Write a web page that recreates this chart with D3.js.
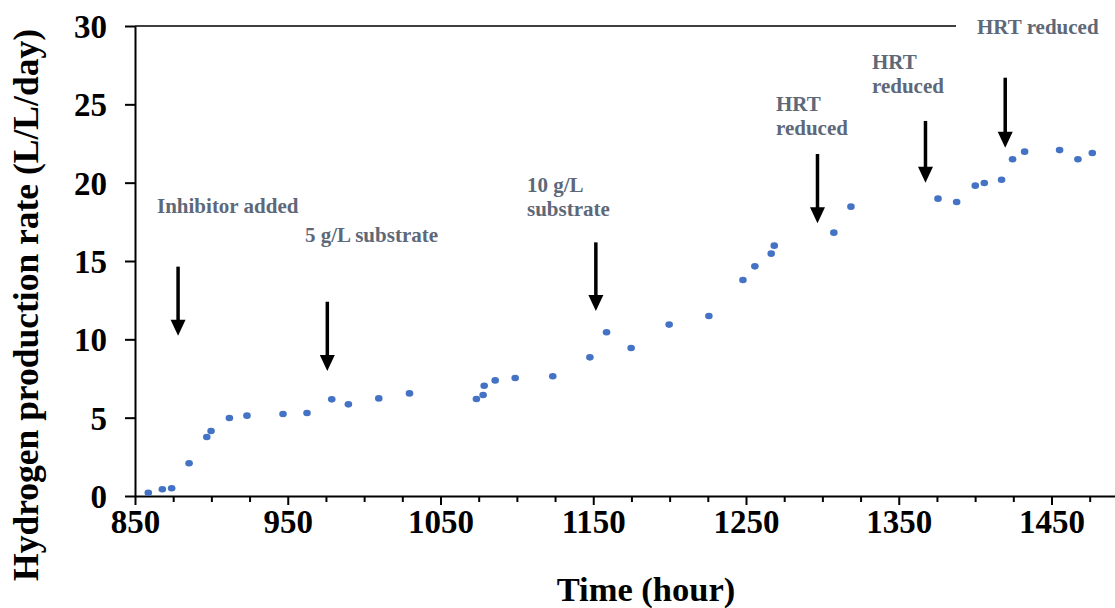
<!DOCTYPE html>
<html>
<head>
<meta charset="utf-8">
<script src="https://cdn.jsdelivr.net/npm/d3@7"></script>
<style>
  html, body { margin: 0; padding: 0; background: #fff; }
  svg { display: block; }
  text { font-family: "Liberation Serif", "Times New Roman", serif; font-weight: bold; }
</style>
</head>
<body>
<svg id="chart" width="1115" height="608" font-family="Liberation Serif, Times New Roman, serif"></svg>
<script>
// ---- Data ----
const hours = [858.7, 867.9, 874.0, 885.4, 897.0, 899.8, 911.8, 923.3, 946.9, 962.6,
  978.8, 989.7, 1009.6, 1029.7, 1073.5, 1077.9, 1078.6, 1085.8, 1098.9, 1123.5,
  1147.8, 1158.7, 1174.8, 1199.7, 1225.7, 1248.0, 1255.8, 1266.5, 1268.5, 1307.5,
  1318.7, 1375.7, 1387.9, 1400.1, 1406.0, 1417.3, 1424.5, 1432.4, 1455.3, 1467.3, 1476.7];
const rates = [0.21, 0.43, 0.49, 2.09, 3.77, 4.15, 4.98, 5.13, 5.23, 5.30,
  6.17, 5.85, 6.23, 6.55, 6.19, 6.45, 7.04, 7.38, 7.53, 7.64,
  8.85, 10.45, 9.45, 10.94, 11.49, 13.79, 14.66, 15.47, 15.98, 16.81,
  18.47, 18.98, 18.77, 19.81, 19.98, 20.19, 21.49, 21.98, 22.08, 21.49, 21.89];

const xTickLabels = [850, 950, 1050, 1150, 1250, 1350, 1450];
const yTickLabels = [0, 5, 10, 15, 20, 25, 30];

// Events (arrows): time of event, arrow top value, arrow tip value
const eventLabels = [["Inhibitor added"], ["5 g/L substrate"], ["10 g/L", "substrate"],
  ["HRT", "reduced"], ["HRT", "reduced"], ["HRT reduced"]];
const eventHours = [878.2, 975.9, 1151.7, 1296.8, 1367.5, 1419.7];
const arrowTop = [14.64, 12.40, 16.19, 21.83, 23.94, 26.70];
const arrowTip = [10.23, 7.98, 11.81, 17.41, 20.00, 22.23];

// ---- Layout (pixels) ----
const labelLayout = [
  {x: 157, y: 213}, {x: 305, y: 242}, {x: 527, y: 192}, {x: 776, y: 111},
  {x: 872, y: 69}, {x: 977, y: 34}
];

const FONT = '"Liberation Serif", "Times New Roman", serif';
const svg = d3.select("#chart");
const x = d3.scaleLinear().domain([850, 1500]).range([135, 135 + 650 * 1.5275]);
const y = d3.scaleLinear().domain([0, 30]).range([496, 26]);

// top border line
svg.append("line")
  .attr("x1", x(850)).attr("x2", 1115)
  .attr("y1", y(30)).attr("y2", y(30))
  .attr("stroke", "#000").attr("stroke-width", 1.6);

// minor x ticks
const minor = d3.range(850, 1501, 25).filter(v => (v - 850) % 100 !== 0);
svg.append("g").attr("transform", `translate(0,${y(0)})`)
  .call(d3.axisBottom(x).tickValues(minor).tickSize(6).tickSizeOuter(0).tickFormat(""))
  .call(g => g.select(".domain").remove())
  .call(g => g.selectAll("line").attr("stroke", "#000").attr("stroke-width", 2));

// major x axis
svg.append("g").attr("transform", `translate(0,${y(0)})`)
  .call(d3.axisBottom(x).tickValues(xTickLabels).tickFormat(d3.format("d"))
    .tickSize(9).tickSizeOuter(0).tickPadding(3))
  .attr("font-family", FONT)
  .call(g => g.select(".domain").attr("stroke", "#000").attr("stroke-width", 2))
  .call(g => g.selectAll("line").attr("stroke", "#000").attr("stroke-width", 2))
  .call(g => g.selectAll("text").attr("fill", "#000")
    .style("font-family", FONT).style("font-weight", "bold")
    .style("font-size", "33px").attr("dy", "0.75em"));

// y axis
svg.append("g").attr("transform", `translate(${x(850)},0)`)
  .call(d3.axisLeft(y).tickValues(yTickLabels).tickFormat(d3.format("d"))
    .tickSize(10).tickSizeOuter(0).tickPadding(18))
  .attr("font-family", FONT)
  .call(g => g.select(".domain").attr("stroke", "#000").attr("stroke-width", 2))
  .call(g => g.selectAll("line").attr("stroke", "#000").attr("stroke-width", 2))
  .call(g => g.selectAll("text").attr("fill", "#000")
    .style("font-family", FONT).style("font-weight", "bold")
    .style("font-size", "33px").attr("dy", "0.35em"));

// axis titles
svg.append("text").attr("x", 646).attr("y", 601).attr("text-anchor", "middle")
  .style("font-family", FONT).style("font-size", "34.5px").attr("fill", "#000").text("Time (hour)");
svg.append("text").attr("transform", "translate(38,305) rotate(-90)")
  .attr("text-anchor", "middle").style("font-family", FONT).style("font-size", "35.5px")
  .attr("fill", "#000").text("Hydrogen production rate (L/L/day)");

// points
svg.append("g").selectAll("ellipse").data(hours).join("ellipse")
  .attr("cx", (d) => x(d)).attr("cy", (d, i) => y(rates[i]))
  .attr("rx", 3.8).attr("ry", 3.3).attr("fill", "#4472C4");

// arrows
const headH = 16, headW = 7.5;
const ag = svg.append("g");
eventHours.forEach((h, i) => {
  const ax = x(h), t = y(arrowTop[i]), tip = y(arrowTip[i]);
  ag.append("line").attr("x1", ax).attr("x2", ax).attr("y1", t).attr("y2", tip - headH + 1)
    .attr("stroke", "#000").attr("stroke-width", 3.5);
  ag.append("path")
    .attr("d", `M${ax - headW},${tip - headH}L${ax + headW},${tip - headH}L${ax},${tip}Z`)
    .attr("fill", "#000");
});

// labels
const lg = svg.append("g");
eventLabels.forEach((lines, i) => {
  const L = labelLayout[i];
  if (i === eventLabels.length - 1) {
    lg.append("rect").attr("x", 956).attr("y", 8).attr("width", 160).attr("height", 36)
      .attr("fill", "#fff");
  }
  const t = lg.append("text").attr("x", L.x).attr("y", L.y)
    .style("font-family", FONT).style("font-size", "21px").attr("fill", "#5d6879");
  lines.forEach((s, j) => {
    t.append("tspan").attr("x", L.x).attr("dy", j === 0 ? 0 : 24).text(s);
  });
});
</script>
</body>
</html>
